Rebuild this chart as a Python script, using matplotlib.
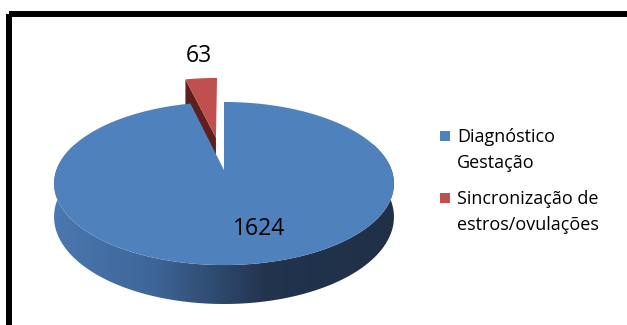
import numpy as np
import matplotlib.pyplot as plt
from matplotlib.patches import Polygon, Rectangle
from matplotlib.colors import LinearSegmentedColormap

categories = ["Diagnóstico\nGestação", "Sincronização de\nestros/ovulações"]
values = [1624, 63]
explode = [0.0, 0.44]
colors = ["#4F81BD", "#C0504D"]
cut_colors = ["#2B4668", "#5E1F1E"]
label_pos = [(259, 229), (199, 56)]

# pie geometry in pixel coords (simple perspective)
CX, CY = 224, 170
A, B = 167.6, 79.3
K = 0.1657
D = 32.5


def proj(u, v, z=0.0):
    w = 1.0 / (1.0 + K * v)
    return CX + A * u * w, CY - B * v * w + D * z * w


def arc(t1, t2, du=0.0, dv=0.0, z=0.0, n=200):
    t = np.radians(np.linspace(t1, t2, n))
    x, y = proj(np.cos(t) + du, np.sin(t) + dv, z)
    return np.column_stack([x, y])


fig = plt.figure(figsize=(6.27, 3.25), dpi=100)
ax = fig.add_axes([0, 0, 1, 1])
ax.set_xlim(0, 627)
ax.set_ylim(325, 0)
ax.axis("off")

# excel style: clockwise from 12 o'clock
fracs = np.array(values) / np.sum(values)
ends = 90 - np.cumsum(fracs) * 360
starts = np.concatenate([[90], ends[:-1]])

# draw back (exploded) slices first, then the big one
order = np.argsort(explode)[::-1]
for i in order:
    t1, t2 = ends[i], starts[i]
    mid = np.radians((t1 + t2) / 2)
    du, dv = explode[i] * np.cos(mid), explode[i] * np.sin(mid)

    # cut faces facing the viewer
    for t, sgn in [(t1, -1), (t2, 1)]:
        nrm = np.radians(t + sgn * 90)
        if np.sin(nrm) < -0.05:
            tr = np.radians(t)
            pts = [proj(np.cos(tr) + du, np.sin(tr) + dv),
                   proj(du, dv),
                   proj(du, dv, 1),
                   proj(np.cos(tr) + du, np.sin(tr) + dv, 1)]
            ax.add_patch(Polygon(pts, closed=True, fc=cut_colors[i], ec="none"))

    # front wall with gradient
    lo, hi = max(t1, -200), min(t2, 20)
    if fracs[i] > 0.5:
        lo, hi = -200, 20
    if lo < hi:
        top = arc(lo, hi, du, dv, 0)
        bot = arc(hi, lo, du, dv, 1)
        wall = Polygon(np.vstack([top, bot]), closed=True, fc="none", ec="none")
        ax.add_patch(wall)
        cmap = LinearSegmentedColormap.from_list(
            "side", [(0.0, "#4A78B0"), (0.3, "#3E6597"), (0.62, "#22344E"), (1.0, "#1F3047")]
        )
        grad = np.linspace(0, 1, 256)[None, :]
        im = ax.imshow(grad, cmap=cmap, aspect="auto",
                       extent=[CX - A * 1.02, CX + A * 1.02, 320, 140], zorder=1)
        im.set_clip_path(wall)

    # top face
    pts = np.vstack([[proj(du, dv)], arc(t1, t2, du, dv, 0)])
    ax.add_patch(Polygon(pts, closed=True, fc=colors[i], ec="none", zorder=2))

for i, (x, y) in enumerate(label_pos):
    ax.text(x, y, str(values[i]), fontsize=16.5, family="Open Sans",
            ha="center", va="center", zorder=5)

# legend
leg_x, leg_y = 440, [136, 198]
for i, lab in enumerate(categories):
    ax.add_patch(Rectangle((leg_x, leg_y[i] - 5), 10, 10, fc=colors[i], ec="none"))
    ax.text(leg_x + 17, leg_y[i] - 8, lab, fontsize=13, family="Open Sans",
            ha="left", va="top", linespacing=1.55)

# outer chart border (cropped on right and bottom)
ax.add_patch(Rectangle((8.5, 14), 700, 400, fc="none", ec="black", lw=4.3, clip_on=False))

fig.savefig("out.png", dpi=100)
